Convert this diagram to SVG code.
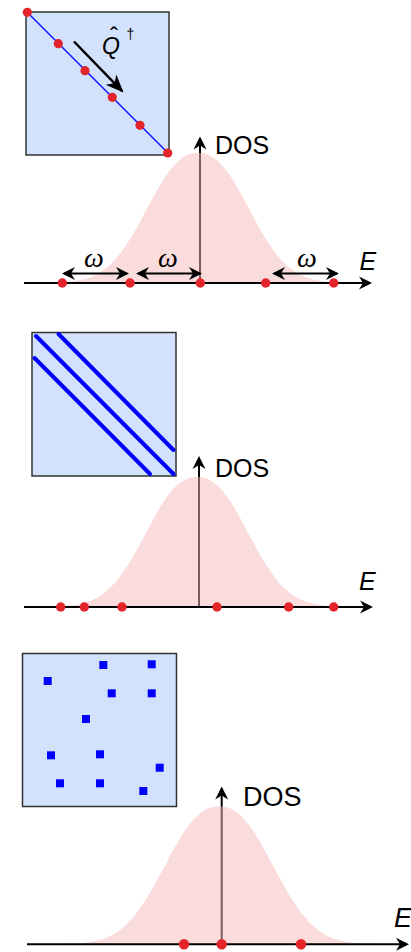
<svg xmlns="http://www.w3.org/2000/svg" xmlns:xlink="http://www.w3.org/1999/xlink" width="411" height="952" viewBox="0 0 411 952">
<style>
.box{fill:#d2e2fc;stroke:#333;stroke-width:1.5}
.dot{fill:#e3242b}
.sq{fill:#0000ff}
.band{stroke:#0000ff;stroke-width:4;stroke-linecap:round;fill:none}
.axis{stroke:#000;stroke-width:2;fill:none}
.bell{fill:#f5baba;fill-opacity:0.5;stroke:none}
.lbl{font-family:"Liberation Sans",Arial,sans-serif;fill:#000}
.it{font-style:italic}
.om{font-family:"Liberation Serif","Times New Roman",serif;font-style:italic;fill:#000;text-anchor:middle}
</style>
<defs>
<marker id="ah" viewBox="-14 -8 16 16" refX="-2" refY="0" markerWidth="16" markerHeight="16" markerUnits="userSpaceOnUse" orient="auto-start-reverse">
<path d="M0,0 L-13,-6.5 L-9,0 L-13,6.5 Z" fill="#000"/>
</marker>
<marker id="big" viewBox="-20 -10 22 20" refX="-2" refY="0" markerWidth="22" markerHeight="20" markerUnits="userSpaceOnUse" orient="auto">
<path d="M0,0 L-18,-7.5 L-13,0 L-18,7.5 Z" fill="#000"/>
</marker>
<path id="bellshape" d="M-160,0 C-150,0 -140,-0.6 -130,-1.05 C-126.67,-1.4 -123.33,-1.76 -120,-2.4 C-116.67,-3.04 -113.33,-3.75 -110,-4.9 C-106.67,-6.05 -103.33,-7.38 -100,-9.3 C-96.67,-11.22 -93.33,-13.48 -90,-16.4 C-86.67,-19.32 -83.33,-22.75 -80,-26.8 C-76.67,-30.85 -73.33,-35.57 -70,-40.7 C-66.67,-45.83 -63.33,-51.7 -60,-57.6 C-56.67,-63.5 -53.33,-69.97 -50,-76.1 C-46.67,-82.23 -43.33,-88.72 -40,-94.4 C-36.67,-100.08 -33.33,-105.63 -30,-110.2 C-26.67,-114.77 -23.33,-118.78 -20,-121.8 C-16.67,-124.82 -13.33,-126.93 -10,-128.3 C-6.67,-129.67 -3.33,-130 0,-130 C3.33,-130 6.67,-129.67 10,-128.3 C13.33,-126.93 16.67,-124.82 20,-121.8 C23.33,-118.78 26.67,-114.77 30,-110.2 C33.33,-105.63 36.67,-100.08 40,-94.4 C43.33,-88.72 46.67,-82.23 50,-76.1 C53.33,-69.97 56.67,-63.5 60,-57.6 C63.33,-51.7 66.67,-45.83 70,-40.7 C73.33,-35.57 76.67,-30.85 80,-26.8 C83.33,-22.75 86.67,-19.32 90,-16.4 C93.33,-13.48 96.67,-11.22 100,-9.3 C103.33,-7.38 106.67,-6.05 110,-4.9 C113.33,-3.75 116.67,-3.04 120,-2.4 C123.33,-1.76 126.67,-1.4 130,-1.05 C140,-0.6 150,0 160,0 Z"/>
</defs>

<!-- Panel 1 -->
<g id="matrix1">
<rect class="box" x="26" y="12" width="143" height="143"/>
<line x1="27" y1="12" x2="168" y2="153" stroke="#0000ff" stroke-width="1.3"/>
<text class="lbl it" x="102" y="53.5" font-size="23">Q</text>
<text class="lbl" x="114" y="43.5" font-size="24" text-anchor="middle">ˆ</text>
<text class="lbl" x="126.5" y="38.5" font-size="14">†</text>
<g class="dots">
<circle class="dot" cx="27.3" cy="12.3" r="4.6"/>
<circle class="dot" cx="58.3" cy="43.7" r="4.6"/>
<circle class="dot" cx="85" cy="70.7" r="4.6"/>
<circle class="dot" cx="112.3" cy="97.3" r="4.6"/>
<circle class="dot" cx="140" cy="125.3" r="4.6"/>
<circle class="dot" cx="167.7" cy="153" r="4.6"/>
</g>
</g>
<g id="dos1">
<line class="axis" x1="200" y1="283" x2="200" y2="138.5" marker-end="url(#ah)"/>
<use xlink:href="#bellshape" class="bell" transform="translate(198,283)"/>
<line class="axis" x1="24" y1="283" x2="370" y2="283" marker-end="url(#ah)"/>
<text class="lbl" x="215" y="153.5" font-size="25">DOS</text>
<text class="lbl it" x="359.5" y="270" font-size="25">E</text>
<text class="om" x="94" y="266.5" font-size="28">ω</text>
<text class="om" x="168" y="266.5" font-size="28">ω</text>
<text class="om" x="307" y="266.5" font-size="28">ω</text>
</g>

<!-- Panel 2 -->
<g id="matrix2">
<rect class="box" x="32" y="332.5" width="144" height="143.5"/>
<line class="band" x1="36" y1="336" x2="173.5" y2="474"/>
<line class="band" x1="58.5" y1="334" x2="173.5" y2="450"/>
<line class="band" x1="34.5" y1="358" x2="150" y2="474"/>
</g>
<g id="dos2">
<line class="axis" x1="199" y1="607" x2="199" y2="458" marker-end="url(#ah)"/>
<use xlink:href="#bellshape" class="bell" transform="translate(197,607)"/>
<line class="axis" x1="24" y1="607" x2="371" y2="607" marker-end="url(#ah)"/>
<text class="lbl" x="215" y="477" font-size="25">DOS</text>
<text class="lbl it" x="359" y="590" font-size="25">E</text>
</g>

<!-- Panel 3 -->
<g id="matrix3">
<rect class="box" x="22.5" y="653.5" width="154" height="153" stroke-width="2"/>
<rect class="sq" x="99.3" y="661" width="8" height="8"/>
<rect class="sq" x="147.7" y="660.3" width="8" height="8"/>
<rect class="sq" x="43.7" y="677" width="8" height="8"/>
<rect class="sq" x="107.7" y="689.3" width="8" height="8"/>
<rect class="sq" x="147.7" y="689.3" width="8" height="8"/>
<rect class="sq" x="82" y="715" width="8" height="8"/>
<rect class="sq" x="47" y="751.3" width="8" height="8"/>
<rect class="sq" x="96" y="750.3" width="8" height="8"/>
<rect class="sq" x="155.7" y="763.7" width="8" height="8"/>
<rect class="sq" x="56" y="779.3" width="8" height="8"/>
<rect class="sq" x="96" y="779.3" width="8" height="8"/>
<rect class="sq" x="139.3" y="787" width="8" height="8"/>
</g>
<g id="dos3">
<line class="axis" x1="221.7" y1="944.3" x2="221.7" y2="788.5" marker-end="url(#ah)"/>
<use xlink:href="#bellshape" class="bell" transform="translate(219,944.3) scale(1.06)"/>
<line class="axis" x1="27" y1="944.3" x2="407" y2="944.3" marker-end="url(#ah)"/>
<text class="lbl" x="243" y="806" font-size="27">DOS</text>
<text class="lbl it" x="394" y="927" font-size="27">E</text>
</g>

<!-- Connectors -->
<g id="connectors">
<line x1="74" y1="41.5" x2="122.1" y2="91.1" stroke="#000" stroke-width="2.5" marker-end="url(#big)"/>
<line class="axis" x1="64" y1="273.5" x2="127" y2="273.5" marker-start="url(#ah)" marker-end="url(#ah)"/>
<line class="axis" x1="138" y1="273.5" x2="200" y2="273.5" marker-start="url(#ah)" marker-end="url(#ah)"/>
<line class="axis" x1="274" y1="273.5" x2="337" y2="273.5" marker-start="url(#ah)" marker-end="url(#ah)"/>
</g>

<!-- Energy eigenvalue dots -->
<g id="levels">
<circle class="dot" cx="62.3" cy="283" r="4.7"/>
<circle class="dot" cx="130" cy="283" r="4.7"/>
<circle class="dot" cx="200.3" cy="283" r="4.7"/>
<circle class="dot" cx="265.7" cy="283" r="4.7"/>
<circle class="dot" cx="333.7" cy="283" r="4.7"/>
<circle class="dot" cx="60.7" cy="607" r="4.7"/>
<circle class="dot" cx="84.3" cy="607" r="4.7"/>
<circle class="dot" cx="122" cy="607" r="4.7"/>
<circle class="dot" cx="217" cy="607" r="4.7"/>
<circle class="dot" cx="288.7" cy="607" r="4.7"/>
<circle class="dot" cx="333.7" cy="607" r="4.7"/>
<circle class="dot" cx="184" cy="944.3" r="5.2"/>
<circle class="dot" cx="221.7" cy="944.3" r="5.2"/>
<circle class="dot" cx="301" cy="944.3" r="5.2"/>
</g>
</svg>
